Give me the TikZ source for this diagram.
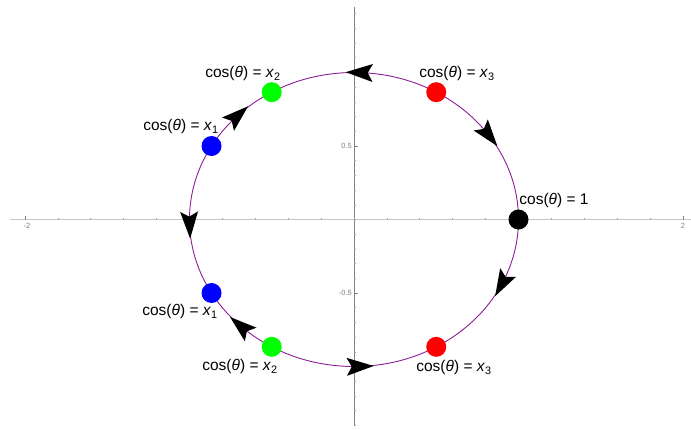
\documentclass[tikz,border=0pt]{standalone}
\usepackage{fontspec}
\setmainfont{Liberation Sans}
\definecolor{curvecol}{RGB}{140,30,150}
\definecolor{xaxcol}{RGB}{200,200,200}
\definecolor{yaxcol}{RGB}{130,130,130}
\definecolor{tickcol}{RGB}{165,165,165}
\definecolor{greendot}{RGB}{0,255,0}
\newcommand\myarrow[3]{%
  \pgfmathsetmacro\rotang{atan2(#3*147*cos(#2), -#3*164.5*sin(#2))}%
  \coordinate (#1) at ({cos(#2)},{sin(#2)});%
  \fill[black, shift={(#1)}, rotate=\rotang] (14pt,0) -- (-13pt,9pt) -- (-8pt,0) -- (-13pt,-9pt) -- cycle;%
}
\begin{document}
\begin{tikzpicture}[x=164.5pt,y=147pt,
  curve/.style={draw=curvecol, line width=0.9pt},
  dot/.style={circle, minimum size=20pt, inner sep=0pt, draw=none},
  lbl/.style={font=\fontsize{15.5}{18}\selectfont, inner sep=0pt},
  ticklbl/.style={font=\fontsize{7.5}{9}\selectfont, text=gray, inner sep=0pt},
  xaxis/.style={draw=xaxcol, line width=1.3pt},
  yaxis/.style={draw=yaxcol, line width=0.8pt},
  tickmark/.style={draw=tickcol, line width=0.6pt}]
\useasboundingbox (-354pt,-209.5pt) rectangle (337pt,219.5pt);
% axes
\coordinate (xl) at (-344pt,0);
\coordinate (xr) at (337pt,0);
\coordinate (yb) at (0,-205pt);
\coordinate (yt) at (0,212.5pt);
\draw[xaxis] (xl) -- (xr);
\draw[yaxis] (yb) -- (yt);
\foreach \i in {-10,...,10} {\draw[tickmark] ({\i*0.2},0) -- ++(0,1.5pt);}
\foreach \i in {-2,-1,1,2} {\draw[tickmark, draw=yaxcol] (\i,0) -- ++(0,3.5pt);}
\foreach \i in {-14,...,14} {\draw[tickmark] (0,{\i*0.1}) -- ++(2pt,0);}
\foreach \i in {-1,-0.5,0.5,1} {\draw[tickmark, draw=yaxcol] (0,\i) -- ++(4pt,0);}
\node[ticklbl] (tm2) at (-327pt,-6pt) {-2};
\node[ticklbl] (tp2) at (329pt,-6pt) {2};
\node[ticklbl, anchor=east] (tp05) at (-2pt,0.5) {0.5};
\node[ticklbl, anchor=east] (tm05) at (-2pt,-0.5) {-0.5};
% curve
\coordinate (o) at (0,0);
\draw[curve] (o) circle [x radius=164.5pt, y radius=147pt];
% arrows
\myarrow{a1}{88}{1}
\myarrow{a2}{35}{-1}
\myarrow{a3}{-26}{-1}
\myarrow{a4}{272}{1}
\myarrow{a5}{226.5}{-1}
\myarrow{a6}{182}{1}
\myarrow{a7}{135}{-1}
% dots
\node[dot, fill=black] (d0) at (1,0) {};
\node[dot, fill=red] (r1) at ({cos(60)},{sin(60)}) {};
\node[dot, fill=greendot] (g1) at ({cos(120)},{sin(120)}) {};
\node[dot, fill=blue] (b1) at ({cos(150)},{sin(150)}) {};
\node[dot, fill=blue] (b2) at ({cos(210)},{sin(210)}) {};
\node[dot, fill=greendot] (g2) at ({cos(240)},{sin(240)}) {};
\node[dot, fill=red] (r2) at ({cos(300)},{sin(300)}) {};
% labels
\node[lbl] (l0) at (200pt,19pt) {cos(\textit{θ}) = 1};
\node[lbl] (lr1) at (103pt,146pt) {cos(\textit{θ}) = \textit{x}\textsubscript{3}};
\node[lbl] (lg1) at (-111pt,146pt) {cos(\textit{θ}) = \textit{x}\textsubscript{2}};
\node[lbl] (lb1) at (-173pt,93pt) {cos(\textit{θ}) = \textit{x}\textsubscript{1}};
\node[lbl] (lb2) at (-174pt,-92pt) {cos(\textit{θ}) = \textit{x}\textsubscript{1}};
\node[lbl] (lg2) at (-114pt,-147pt) {cos(\textit{θ}) = \textit{x}\textsubscript{2}};
\node[lbl] (lr2) at (100pt,-148pt) {cos(\textit{θ}) = \textit{x}\textsubscript{3}};
\end{tikzpicture}
\end{document}
